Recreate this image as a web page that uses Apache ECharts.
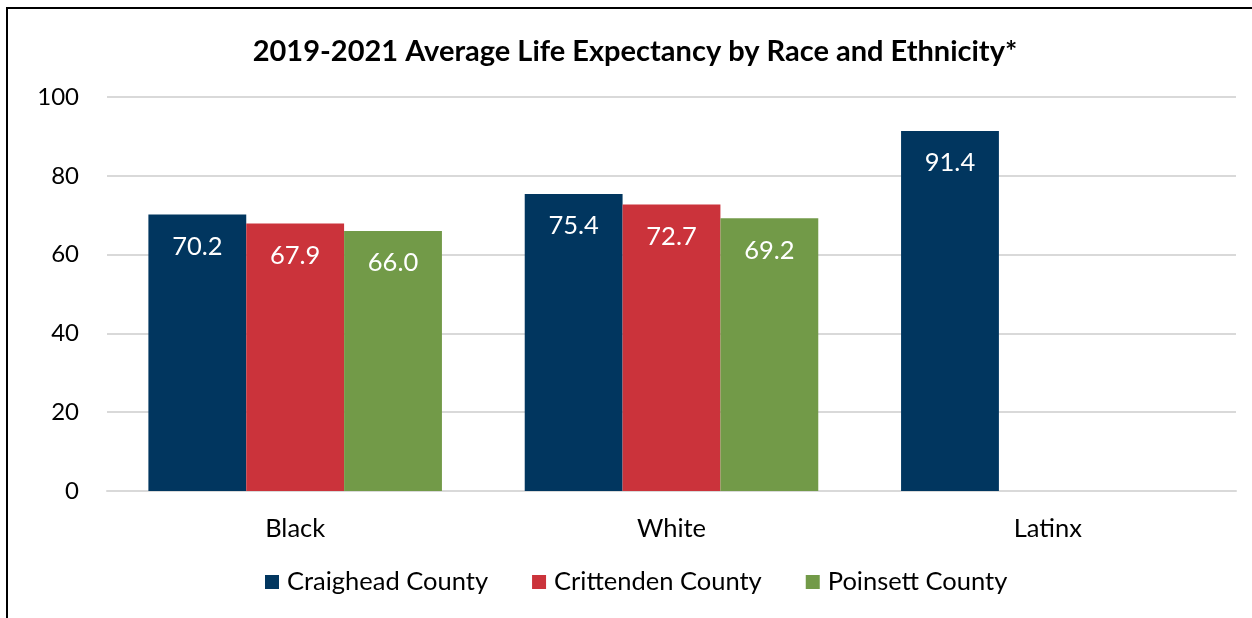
<!DOCTYPE html>
<html>
<head>
<meta charset="utf-8">
<style>
  html, body { margin: 0; padding: 0; background: #fff; }
  #chart { width: 1252px; height: 618px; }
</style>
<script src="https://cdn.jsdelivr.net/npm/echarts@6/dist/echarts.min.js"></script>
</head>
<body>
<div id="chart"></div>
<script>
const categories = ['Black', 'White', 'Latinx'];
const craighead = [70.2, 75.4, 91.4];
const crittenden = [67.9, 72.7, null];
const poinsett = [66.0, 69.2, null];
const seriesNames = ['Craighead County', 'Crittenden County', 'Poinsett County'];
const colors = ['#01365f', '#cb333b', '#729a48'];

const font = 'Lato, "Open Sans", sans-serif';

const chart = echarts.init(document.getElementById('chart'), null, { renderer: 'canvas' });

const label = {
  show: true,
  position: 'insideTop',
  distance: 19,
  color: '#ffffff',
  fontFamily: font,
  fontSize: 25.5,
  formatter: p => p.value == null ? '' : Number(p.value).toFixed(1)
};

chart.setOption({
  animation: false,
  backgroundColor: '#ffffff',
  color: colors,
  title: {
    text: '2019-2021 Average Life Expectancy by Race and Ethnicity*',
    left: 630,
    textAlign: 'center',
    top: 32,
    textStyle: { fontFamily: font, fontWeight: 'bold', fontSize: 29, color: '#000' }
  },
  graphic: [{
    type: 'rect',
    shape: { x: 7, y: 8, width: 1260, height: 630 },
    style: { fill: 'none', stroke: '#000', lineWidth: 2 },
    silent: true
  }],
  legend: {
    bottom: 18,
    left: 260,
    itemWidth: 14,
    itemHeight: 14,
    itemGap: 44,
    icon: 'rect',
    textStyle: { fontFamily: font, fontSize: 25.5, color: '#000', padding: [0, 0, 0, 3] },
    data: seriesNames
  },
  grid: { left: 107, right: 16, top: 97, bottom: 127 },
  xAxis: {
    type: 'category',
    data: categories,
    axisLine: { lineStyle: { color: '#d9d9d9', width: 2 } },
    axisTick: { show: false },
    axisLabel: { fontFamily: font, fontSize: 25.5, color: '#000', margin: 25 }
  },
  yAxis: {
    type: 'value',
    min: 0,
    max: 100,
    interval: 20,
    axisLine: { show: false },
    axisTick: { show: false },
    splitLine: { lineStyle: { color: '#d9d9d9', width: 2 } },
    axisLabel: { fontFamily: font, fontSize: 24, color: '#000', margin: 28 }
  },
  series: [
    { name: seriesNames[0], type: 'bar', data: craighead, barGap: '0%', barCategoryGap: '22%', label: label },
    { name: seriesNames[1], type: 'bar', data: crittenden, barGap: '0%', barCategoryGap: '22%', label: label },
    { name: seriesNames[2], type: 'bar', data: poinsett, barGap: '0%', barCategoryGap: '22%', label: label }
  ]
});
</script>
</body>
</html>
